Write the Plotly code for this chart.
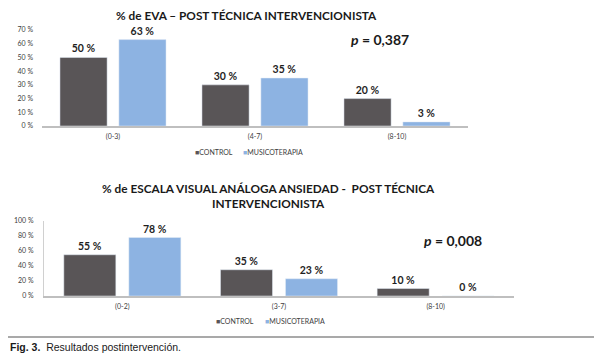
import plotly.graph_objects as go

# page body has an 8px default margin; the figure fills the rest of the window
OFF = 8
W, H = 602 - OFF, 355 - OFF

cats_eva = ["(0-3)", "(4-7)", "(8-10)"]
control_eva = [50, 30, 20]
musico_eva = [63, 35, 3]

cats_ans = ["(0-2)", "(3-7)", "(8-10)"]
control_ans = [55, 35, 10]
musico_ans = [78, 23, 0]

ticks_eva = [0, 10, 20, 30, 40, 50, 60, 70]
ticks_ans = [0, 20, 40, 60, 80, 100]

series_names = ["CONTROL", "MUSICOTERAPIA"]

C_CTRL = "#595557"
C_MUS = "#8db3e2"
FONT = "Lato"

def px_x(p):
    return (p - OFF) / W

def px_y(p):
    return 1 - (p - OFF) / H

fig = go.Figure()

lab_font = dict(family=FONT, size=10.5, color="#1f1f1f")

def add_bars(cats, vals, name, color, xa, ya):
    fig.add_trace(go.Bar(x=cats, y=vals, name=name, marker_color=color,
                         text=[f"<b>{v} %</b>" for v in vals], textposition="outside",
                         textfont=lab_font, cliponaxis=False, xaxis=xa, yaxis=ya,
                         showlegend=False))

add_bars(cats_eva, control_eva, series_names[0], C_CTRL, "x", "y")
add_bars(cats_eva, musico_eva, series_names[1], C_MUS, "x", "y")
add_bars(cats_ans, control_ans, series_names[0], C_CTRL, "x2", "y2")
add_bars(cats_ans, musico_ans, series_names[1], C_MUS, "x2", "y2")

tick_font = dict(family=FONT, size=7, color="#404040")

fig.update_layout(
    width=W, height=H,
    margin=dict(l=0, r=0, t=0, b=0),
    paper_bgcolor="white", plot_bgcolor="white",
    barmode="group", bargap=0.17, bargroupgap=0.2,
    showlegend=False,
    xaxis=dict(domain=[px_x(42), px_x(468)], anchor="y", showgrid=False, automargin=False,
               showline=True, linecolor="#bfbfbf", linewidth=1.5, ticks="",
               tickfont=tick_font, ticklabelstandoff=3),
    yaxis=dict(domain=[px_y(126), px_y(30)], anchor="x", range=[0, 70], automargin=False,
               tickvals=ticks_eva, ticktext=[f"{v} %" for v in ticks_eva],
               showgrid=False, showline=False, zeroline=False, ticks="",
               tickfont=tick_font, ticklabelstandoff=8),
    xaxis2=dict(domain=[px_x(44), px_x(514)], anchor="y2", showgrid=False, automargin=False,
                showline=True, linecolor="#bfbfbf", linewidth=1.5, ticks="",
                tickfont=tick_font, ticklabelstandoff=3),
    yaxis2=dict(domain=[px_y(296), px_y(221)], anchor="x2", range=[0, 100], automargin=False,
                tickvals=ticks_ans, ticktext=[f"{v} %" for v in ticks_ans],
                showgrid=False, showline=True, linecolor="#d0d0d0", linewidth=1,
                zeroline=False, ticks="", tickfont=tick_font, ticklabelstandoff=8),
)

# legends (one per chart), built from the series names
leg_font = dict(family=FONT, size=7, color="#404040")
def add_legend(x_ctrl, x_mus, y):
    for nm, col, xx in ((series_names[0], C_CTRL, x_ctrl), (series_names[1], C_MUS, x_mus)):
        fig.add_annotation(text=f"<span style='color:{col}'>■</span>{nm}", xref="paper", yref="paper",
                           x=px_x(xx), y=px_y(y), showarrow=False, font=leg_font,
                           xanchor="left", yanchor="middle")

add_legend(193, 241, 152)
add_legend(214, 263, 321)

title_font = dict(family=FONT, size=11.8, color="#1a1a1a")
fig.add_annotation(text="<b>% de EVA – POST TÉCNICA INTERVENCIONISTA</b>", xref="paper", yref="paper",
                   x=px_x(246), y=px_y(16), showarrow=False, font=title_font,
                   xanchor="center", yanchor="middle")
fig.add_annotation(text="<b>% de ESCALA VISUAL ANÁLOGA ANSIEDAD -  POST TÉCNICA</b><br><b>INTERVENCIONISTA</b>",
                   xref="paper", yref="paper", x=px_x(268), y=px_y(196), showarrow=False,
                   font=title_font, xanchor="center", yanchor="middle")

p_font = dict(family=FONT, size=14, color="#1a1a1a")
fig.add_annotation(text="<b><i>p</i> = 0,387</b>", xref="paper", yref="paper",
                   x=px_x(380), y=px_y(39), showarrow=False, font=p_font,
                   xanchor="center", yanchor="middle")
fig.add_annotation(text="<b><i>p</i> = 0,008</b>", xref="paper", yref="paper",
                   x=px_x(453), y=px_y(240), showarrow=False, font=p_font,
                   xanchor="center", yanchor="middle")

fig.add_shape(type="line", xref="paper", yref="paper", x0=0, x1=1,
              y0=px_y(337), y1=px_y(337), line=dict(color="#8c8c8c", width=1.5))
fig.add_annotation(text="<b>Fig. 3.</b>  Resultados postintervención.", xref="paper", yref="paper",
                   x=px_x(8), y=px_y(347), showarrow=False,
                   font=dict(family="Liberation Sans", size=10.5, color="#1a1a1a"),
                   xanchor="left", yanchor="middle")

fig.write_html("out.html")
